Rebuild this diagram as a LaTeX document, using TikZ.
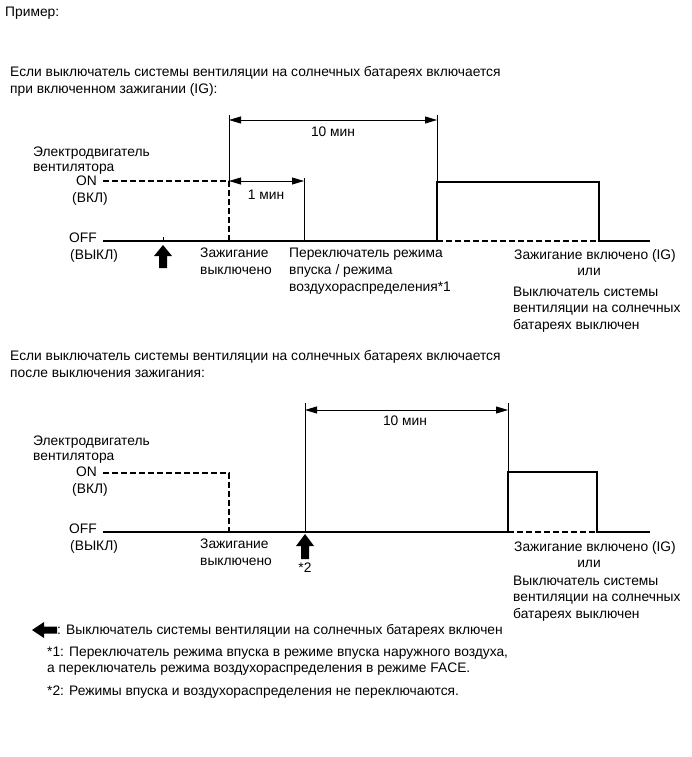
\documentclass[tikz,border=0pt]{standalone}
\usepackage{fontspec}
\setmainfont{Liberation Sans}
\usetikzlibrary{arrows.meta}
\begin{document}
\begin{tikzpicture}[x=1pt,y=-1pt,
  lbl/.style={font=\fontsize{13.8}{16}\selectfont, inner sep=0pt, text height=9.5pt, text depth=0pt, anchor=west},
  lblc/.style={lbl, anchor=center},
  lble/.style={lbl, anchor=east},
  sig/.style={line width=1.3pt},
  dsh/.style={line width=1.2pt, dash pattern=on 5.5pt off 3.5pt},
  thinline/.style={line width=0.6pt},
  dimline/.style={line width=0.8pt, {Triangle[length=12pt,width=7pt]}-{Triangle[length=12pt,width=7pt]}},
]
\useasboundingbox (0,0) rectangle (691,757);

% ---------- header ----------
\node[lbl] (ex) at (5,12) {Пример:};
\node[lbl] (h1a) at (10,72) {Если выключатель системы вентиляции на солнечных батареях включается};
\node[lbl] (h1b) at (10,89) {при включенном зажигании (IG):};

% ---------- diagram 1 ----------
\coordinate (a0) at (103,241);
\coordinate (a1) at (229,241);
\coordinate (a2) at (304,241);
\coordinate (a3) at (437,241);
\coordinate (a4) at (599,241);
\coordinate (a5) at (650,241);
\coordinate (on0) at (103,181);
\coordinate (on1) at (229,181);
\coordinate (b3) at (437,182);
\coordinate (b4) at (599,182);
\coordinate (t1) at (229,115);
\coordinate (t3) at (437,115);
\coordinate (m1) at (304,178);

\draw[sig] (a0) -- (a3);
\draw[dsh] (a3) -- (a4);
\draw[sig] (a3) -- (b3) -- (b4) -- (a4) -- (a5);
\draw[dsh] (on0) -- (on1) -- (a1);
\draw[thinline] (t1) -- (on1);
\draw[thinline] (t3) -- (b3);
\draw[thinline] (m1) -- (a2);
\draw[dimline] (229,120) -- (437,120);
\draw[dimline] (on1) -- (304,181);
\draw[thinline] (163,237) -- (163,241);
\fill (163,245) -- (172,256) -- (167,256) -- (167,268) -- (159,268) -- (159,256) -- (154,256) -- cycle;

\node[lblc] (d10a) at (333,132) {10 мин};
\node[lblc] (d1a) at (266,195) {1 мин};
\node[lbl] (m1a) at (33,152) {Электродвигатель};
\node[lbl] (m1b) at (33,167) {вентилятора};
\node[lble] (on1l) at (97,181) {ON};
\node[lbl] (on1r) at (72,198) {(ВКЛ)};
\node[lble] (off1l) at (97,238) {OFF};
\node[lbl] (off1r) at (70,255) {(ВЫКЛ)};
\node[lbl] (ig1a) at (200,253) {Зажигание};
\node[lbl] (ig1b) at (200,270) {выключено};
\node[lbl] (sw1a) at (289,253) {Переключатель режима};
\node[lbl] (sw1b) at (289,270) {впуска / режима};
\node[lbl] (sw1c) at (289,287) {воздухораспределения*1};
\node[lbl] (r1a) at (514,255) {Зажигание включено (IG)};
\node[lblc] (r1b) at (589,271) {или};
\node[lbl] (r1c) at (513,292) {Выключатель системы};
\node[lbl] (r1d) at (513,308) {вентиляции на солнечных};
\node[lbl] (r1e) at (513,325) {батареях выключен};

% ---------- diagram 2 ----------
\node[lbl] (h2a) at (10,356) {Если выключатель системы вентиляции на солнечных батареях включается};
\node[lbl] (h2b) at (10,373) {после выключения зажигания:};

\coordinate (c0) at (103,532);
\coordinate (c1) at (229,532);
\coordinate (c2) at (305,532);
\coordinate (c3) at (508,532);
\coordinate (c4) at (597,532);
\coordinate (c5) at (650,532);
\coordinate (on20) at (103,473);
\coordinate (on21) at (229,473);
\coordinate (e3) at (508,472);
\coordinate (e4) at (597,472);
\coordinate (t22) at (305,403);
\coordinate (t23) at (508,403);

\draw[sig] (c0) -- (c3);
\draw[dsh] (c3) -- (c4);
\draw[sig] (c3) -- (e3) -- (e4) -- (c4) -- (c5);
\draw[dsh] (on20) -- (on21) -- (c1);
\draw[thinline] (t22) -- (c2);
\draw[thinline] (t23) -- (e3);
\draw[dimline] (305,410) -- (508,410);
\fill (305,534) -- (314,546) -- (309,546) -- (309,559) -- (301,559) -- (301,546) -- (296,546) -- cycle;

\node[lblc] (d10b) at (405,421) {10 мин};
\node[lblc] (st2) at (305,568) {*2};
\node[lbl] (m2a) at (33,441) {Электродвигатель};
\node[lbl] (m2b) at (33,456) {вентилятора};
\node[lble] (on2l) at (97,472) {ON};
\node[lbl] (on2r) at (72,489) {(ВКЛ)};
\node[lble] (off2l) at (97,529) {OFF};
\node[lbl] (off2r) at (70,546) {(ВЫКЛ)};
\node[lbl] (ig2a) at (200,544) {Зажигание};
\node[lbl] (ig2b) at (200,561) {выключено};
\node[lbl] (r2a) at (514,547) {Зажигание включено (IG)};
\node[lblc] (r2b) at (589,563) {или};
\node[lbl] (r2c) at (513,581) {Выключатель системы};
\node[lbl] (r2d) at (513,597) {вентиляции на солнечных};
\node[lbl] (r2e) at (513,614) {батареях выключен};

% ---------- legend ----------
\fill (32,630) -- (44,622) -- (44,626.5) -- (57,626.5) -- (57,633.5) -- (44,633.5) -- (44,638) -- cycle;
\node[lbl] (lg0) at (57,630) {: Выключатель системы вентиляции на солнечных батареях включен};
\node[lbl] (lg1a) at (47,652) {*1: Переключатель режима впуска в режиме впуска наружного воздуха,};
\node[lbl] (lg1b) at (47,668) {а переключатель режима воздухораспределения в режиме FACE.};
\node[lbl] (lg2) at (47,691) {*2: Режимы впуска и воздухораспределения не переключаются.};
\end{tikzpicture}
\end{document}
